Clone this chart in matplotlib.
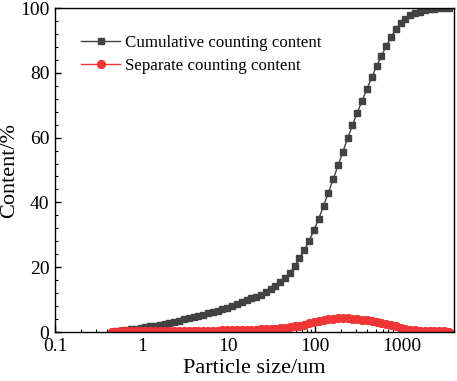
import matplotlib
matplotlib.use("Agg")
import matplotlib.pyplot as plt
from matplotlib.ticker import AutoMinorLocator, LogLocator, NullFormatter

plt.rcParams['font.family'] = ['Liberation Serif', 'DejaVu Serif']

# particle size (um)
size = [0.450, 0.511, 0.581, 0.660, 0.750, 0.853, 0.969, 1.102, 1.252, 1.423,
        1.618, 1.838, 2.089, 2.374, 2.698, 3.066, 3.485, 3.960, 4.500, 5.114,
        5.812, 6.605, 7.506, 8.531, 9.694, 11.02, 12.52, 14.23, 16.18, 18.38,
        20.89, 23.74, 26.98, 30.66, 34.85, 39.60, 45.00, 51.14, 58.12, 66.05,
        75.06, 85.31, 96.94, 110.2, 125.2, 142.3, 161.8, 183.8, 208.9, 237.4,
        269.8, 306.6, 348.5, 396.0, 450.0, 511.4, 581.2, 660.5, 750.6, 853.1,
        969.4, 1102, 1252, 1423, 1618, 1838, 2089, 2374, 2698, 3066, 3485]

# cumulative counting content (%)
cumulative = [0.15, 0.30, 0.46, 0.63, 0.81, 1.0, 1.2, 1.45, 1.7, 2.0,
              2.3, 2.6, 2.9, 3.2, 3.55, 3.9, 4.25, 4.6, 5.0, 5.4,
              5.8, 6.2, 6.5, 7.0, 7.5, 8.0, 8.6, 9.2, 9.8, 10.4,
              10.9, 11.5, 12.3, 13.2, 14.2, 15.3, 16.7, 18.3, 20.3, 22.8,
              25.3, 28.1, 31.4, 35.0, 38.9, 43.0, 47.2, 51.4, 55.6, 59.8,
              63.9, 67.7, 71.4, 75.0, 78.6, 82.0, 85.2, 88.2, 91.0, 93.4,
              95.3, 96.7, 97.7, 98.4, 98.9, 99.3, 99.6, 99.8, 99.9, 100.0, 100.0]

# separate counting content (%)
separate = [0.15, 0.15, 0.16, 0.17, 0.18, 0.20, 0.22, 0.24, 0.26, 0.28,
            0.30, 0.31, 0.32, 0.33, 0.34, 0.35, 0.36, 0.37, 0.38, 0.40,
            0.42, 0.44, 0.46, 0.49, 0.52, 0.55, 0.58, 0.62, 0.66, 0.70,
            0.75, 0.80, 0.87, 0.95, 1.05, 1.18, 1.33, 1.52, 1.75, 2.00,
            2.30, 2.70, 3.10, 3.45, 3.75, 4.00, 4.15, 4.22, 4.25, 4.22,
            4.12, 3.98, 3.80, 3.60, 3.40, 3.15, 2.85, 2.50, 2.10, 1.70,
            1.30, 0.95, 0.70, 0.50, 0.40, 0.33, 0.28, 0.24, 0.20, 0.17, 0.15]

fig = plt.figure(figsize=(4.57, 3.81), dpi=100)
ax = fig.add_axes([0.1204, 0.1286, 0.873, 0.8504])

ax.plot(size, cumulative, color='#424242', marker='s', markersize=5.0, lw=1.0,
        label='Cumulative counting content')
ax.plot(size, separate, color='#ef3535', marker='o', markersize=5.6, lw=1.0,
        label='Separate counting content')

ax.set_xscale('log')
ax.set_xlim(0.1, 4000)
ax.set_ylim(0, 100)
ax.set_xticks([0.1, 1, 10, 100, 1000])
ax.set_xticklabels(['0.1', '1', '10', '100', '1000'])
ax.xaxis.set_minor_locator(LogLocator(base=10, subs=range(2, 10)))
ax.xaxis.set_minor_formatter(NullFormatter())
ax.set_yticks([0, 20, 40, 60, 80, 100])
ax.yaxis.set_minor_locator(AutoMinorLocator(5))

ax.tick_params(which='both', direction='in', top=False, right=False, labelsize=14)
ax.tick_params(axis='x', which='both', pad=4)
ax.tick_params(axis='y', which='both', pad=4)
ax.tick_params(which='major', length=4, width=1)
ax.tick_params(which='minor', length=2.2, width=0.8)
for s in ax.spines.values():
    s.set_linewidth(1.0)

ax.set_xlabel('Particle size/um', fontsize=16, labelpad=3.5)
ax.set_ylabel('Content/%', fontsize=16, labelpad=1)

ax.legend(loc='upper left', bbox_to_anchor=(0.027, 0.965), frameon=False, fontsize=12.2,
          handlelength=2.3, handletextpad=0.3, labelspacing=0.42)

fig.savefig('out.png', dpi=100)
